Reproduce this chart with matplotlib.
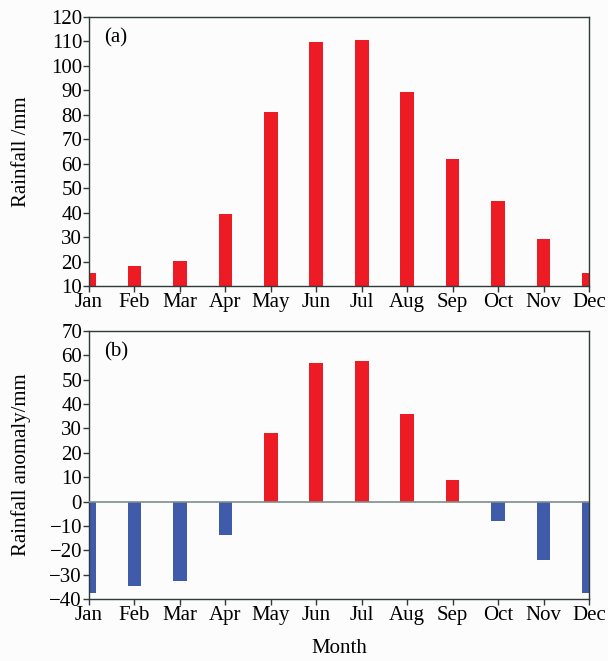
import numpy as np
import matplotlib
matplotlib.use('Agg')
from matplotlib import pyplot as plt

months = ['Jan', 'Feb', 'Mar', 'Apr', 'May', 'Jun', 'Jul', 'Aug', 'Sep', 'Oct', 'Nov', 'Dec']
rainfall = [15.3, 18.3, 20.2, 39.3, 81.3, 109.7, 110.6, 89.2, 61.9, 44.9, 29.2, 15.4]
anomaly = [-37.5, -34.8, -32.8, -13.7, 28.2, 56.8, 57.8, 36.1, 8.8, -8.1, -23.8, -37.5]

red = '#ED1C24'
blue = '#3F5BA9'
edge = '#2F3A3A'

plt.rcParams['font.family'] = ['Liberation Serif', 'DejaVu Serif']
plt.rcParams['font.size'] = 15

fig = plt.figure(figsize=(6.08, 6.61), dpi=100)
fig.patch.set_facecolor('#FCFCFC')

x = np.arange(len(months))

# (a) monthly rainfall
ax1 = fig.add_axes([0.1464, 0.5673, 0.8224, 0.4070])
ax1.bar(x, np.array(rainfall) - 10, bottom=10, width=0.3, color=red)
ax1.set_xlim(0, 11)
ax1.set_ylim(10, 120)
ax1.set_yticks(range(10, 121, 10))
ax1.set_xticks(x)
ax1.set_xticklabels(months)
ax1.set_ylabel('Rainfall /mm')
ax1.text(0.03, 0.96, '(a)', transform=ax1.transAxes, va='top', ha='left')

# (b) rainfall anomaly
ax2 = fig.add_axes([0.1464, 0.0938, 0.8224, 0.4054])
cols = [red if v > 0 else blue for v in anomaly]
ax2.bar(x, anomaly, width=0.3, color=cols, zorder=2)
ax2.axhline(0, color='#7F8C8C', lw=1.2, zorder=3)
ax2.set_xlim(0, 11)
ax2.set_ylim(-40, 70)
ax2.set_yticks(range(-40, 71, 10))
ax2.set_xticks(x)
ax2.set_xticklabels(months)
ax2.set_ylabel('Rainfall anomaly/mm')
ax2.set_xlabel('Month', labelpad=10)
ax2.text(0.03, 0.96, '(b)', transform=ax2.transAxes, va='top', ha='left')

for ax in (ax1, ax2):
    ax.set_facecolor('#FCFCFC')
    for s in ax.spines.values():
        s.set_color(edge)
        s.set_linewidth(1.0)
    ax.tick_params(direction='out', length=4, width=1, color=edge, pad=1)
    ax.yaxis.set_label_coords(-0.117, 0.5)

fig.savefig('out.png', dpi=100, facecolor=fig.get_facecolor())
